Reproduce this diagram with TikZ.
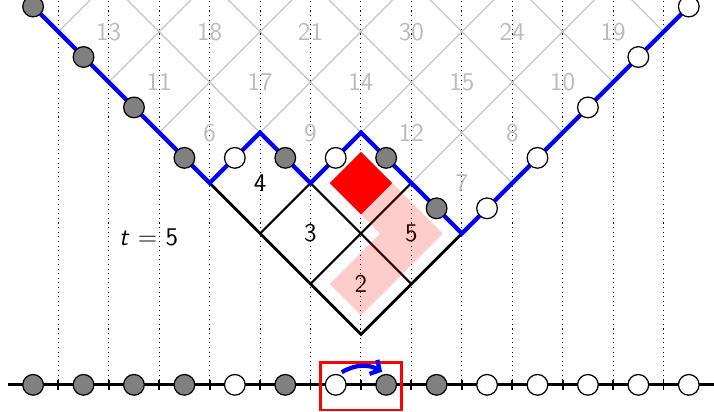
\documentclass[tikz,border=0pt]{standalone}
\usepackage{amsmath,amssymb}
\usepackage{tikz}
\usetikzlibrary{arrows.meta}
\definecolor{tsblue}{HTML}{0000FF}
\definecolor{tsred} {HTML}{FF0000}
\definecolor{tsgrid}{HTML}{C0C0C0}
\definecolor{tsnum} {HTML}{BABABA}
\definecolor{tsfull}{HTML}{808080}

\begin{document}
\begin{tikzpicture}[every node/.style={font=\sffamily\Large},
    particle/.style={circle, draw=black, line width=0.7pt, inner sep=0pt, minimum size=0.41cm}]
  \useasboundingbox (-0.156,-0.535) rectangle (14,7.63);
  \clip (-0.156,-0.535) rectangle (14,7.63);
  \foreach \k in {1,...,13}
    \draw[dotted, line width=0.6pt] (\k,0) -- (\k,8);
  \begin{scope}
    \clip (-1,9) -- (4,4) -- (5,5) -- (6,4) -- (7,5) -- (9,3) -- (15,9) -- cycle;
    \foreach \c in {-10,-8,...,6}
      \draw[tsgrid, line width=0.6pt] (\c-1,-1) -- (\c+10,10);
    \foreach \c in {8,10,...,24}
      \draw[tsgrid, line width=0.6pt] (\c+1,-1) -- (\c-10,10);
  \end{scope}
  \foreach \x/\y/\n in {2/7/13, 4/7/18, 6/7/21, 8/7/30, 10/7/24, 12/7/19,
      3/6/11, 5/6/17, 7/6/14, 9/6/15, 11/6/10, 4/5/6, 6/5/9, 8/5/12, 10/5/8, 9/4/7}
    \node[tsnum] (cell\n) at (\x,\y) {\n};
  \draw[line width=1.6pt] (4,4) -- (7,1) -- (9,3);
  \draw[line width=1.2pt] (5,3) -- (6,4) (6,2) -- (8,4) (6,4) -- (8,2);
  \foreach \x/\y/\n in {5/4/4, 6/3/3, 7/2/2, 8/3/5}
    \node (cell\n) at (\x,\y) {\n};
  \draw[tsred, opacity=0.2, line width=0.88cm, line cap=rect] (7,2) -- (8,3) -- (7,4);
  \fill[tsred] (7,4.62) -- (7.62,4) -- (7,3.38) -- (6.38,4) -- cycle;
  \draw[tsblue, line width=2.4pt] (0,8) -- (4,4) -- (5,5) -- (6,4) -- (7,5) -- (9,3) -- (14,8);
  \draw[line width=1.7pt] (0,0) -- (14,0);
  \foreach \k in {1,...,13}
    \draw[line width=1pt] (\k,-0.1) -- (\k,0.1);
  \foreach \x/\y/\c [count=\i] in {0.5/7.5/tsfull, 1.5/6.5/tsfull, 2.5/5.5/tsfull,
      3.5/4.5/tsfull, 4.5/4.5/white, 5.5/4.5/tsfull, 6.5/4.5/white, 7.5/4.5/tsfull,
      8.5/3.5/tsfull, 9.5/3.5/white, 10.5/4.5/white, 11.5/5.5/white, 12.5/6.5/white,
      13.5/7.5/white} {
    \node[particle, fill=\c] (top\i) at (\x,\y) {};
    \node[particle, fill=\c] (bot\i) at (\x,0) {};
  }
  \draw[tsred, line width=1.6pt] ([shift={(-0.3,-0.5)}]bot7.center) rectangle ([shift={(0.3,0.45)}]bot8.center);
  \draw[tsblue, line width=2.4pt, -{Straight Barb[length=4pt,width=9pt]}]
    ([shift={(0.12,0.25)}]bot7.center) to[bend left=30] ([shift={(-0.08,0.26)}]bot8.center);
  \node (tlabel) at (2.79,2.93) {\textit{t} $=$ 5};
\end{tikzpicture}
\end{document}
